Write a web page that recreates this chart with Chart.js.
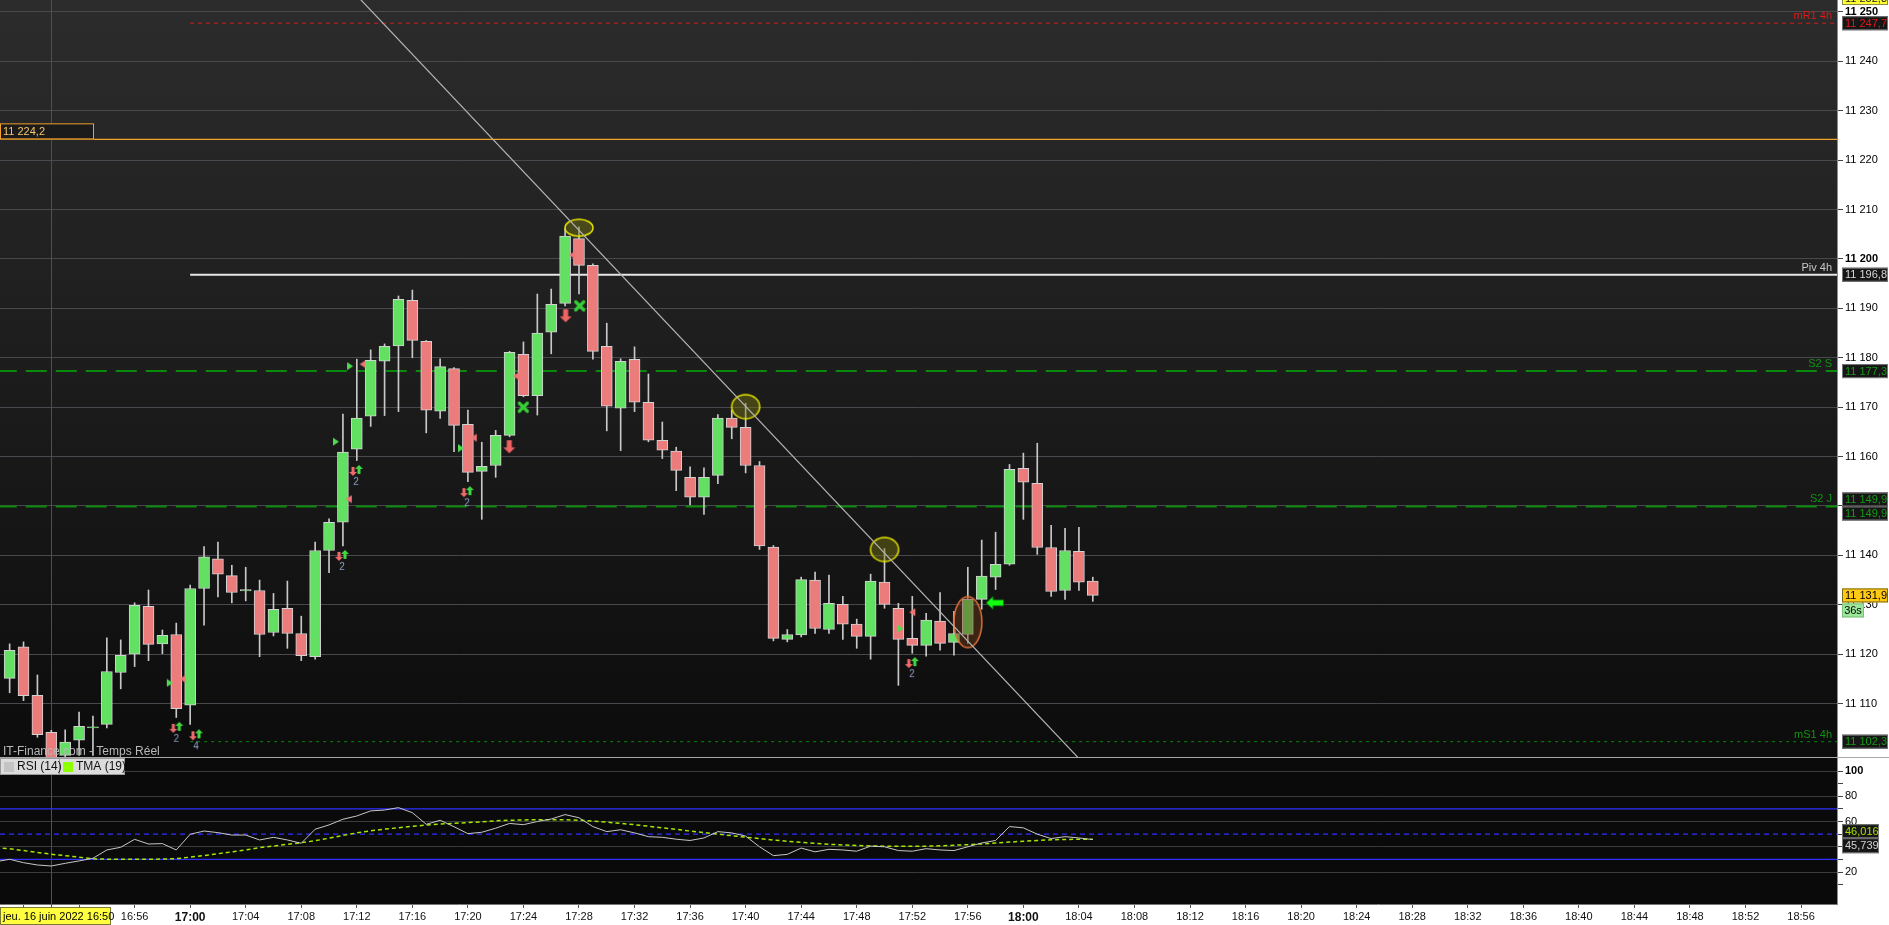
<!DOCTYPE html>
<html>
<head>
<meta charset="utf-8">
<script src="https://cdn.jsdelivr.net/npm/chart.js@4.4.1/dist/chart.umd.min.js"></script>
<style>
  html, body { margin: 0; padding: 0; background: #fff; overflow: hidden; }
  #wrap { position: relative; width: 1889px; height: 925px; background: #a8a8a8; }
  #priceChart { position: absolute; left: 0; top: 0; }
  #rsiChart { position: absolute; left: 0; top: 758px; }
</style>
</head>
<body>
<div id="wrap">
  <canvas id="priceChart" width="1889" height="757"></canvas>
  <canvas id="rsiChart" width="1889" height="167"></canvas>
</div>
<script>
// --- Donnees : bougies 1 minute ---
const candleTimes = ['16:47','16:48','16:49','16:50','16:51','16:52','16:53','16:54','16:55','16:56','16:57','16:58','16:59',
  '17:00','17:01','17:02','17:03','17:04','17:05','17:06','17:07','17:08','17:09','17:10','17:11','17:12','17:13','17:14',
  '17:15','17:16','17:17','17:18','17:19','17:20','17:21','17:22','17:23','17:24','17:25','17:26','17:27','17:28','17:29',
  '17:30','17:31','17:32','17:33','17:34','17:35','17:36','17:37','17:38','17:39','17:40','17:41','17:42','17:43','17:44',
  '17:45','17:46','17:47','17:48','17:49','17:50','17:51','17:52','17:53','17:54','17:55','17:56','17:57','17:58','17:59',
  '18:00','18:01','18:02','18:03','18:04','18:05'];
const opens = [11115.1,11121.5,11111.7,11104.2,11099.5,11102.6,11105.1,11105.8,11116.3,11120.0,11129.7,11122.1,11124.0,
  11109.7,11133.3,11139.3,11135.9,11132.8,11132.9,11124.4,11129.3,11124.2,11119.5,11141.0,11146.7,11161.5,11168.2,11179.3,
  11182.4,11191.6,11183.3,11169.2,11177.8,11166.5,11157.0,11158.2,11164.3,11180.7,11172.3,11185.2,11191.0,11204.1,11198.7,
  11182.3,11169.8,11179.7,11171.0,11163.3,11161.1,11155.8,11151.8,11156.2,11167.8,11165.9,11158.2,11141.7,11123.0,11123.9,
  11135.0,11125.0,11130.1,11126.1,11123.6,11134.6,11129.3,11123.2,11121.8,11126.7,11122.4,11124.0,11131.1,11135.6,11138.2,
  11157.6,11154.6,11141.6,11132.9,11140.8,11134.8];
const highs = [11122.1,11122.5,11115.8,11104.6,11104.7,11108.3,11107.5,11123.3,11122.9,11130.4,11133.0,11124.9,11126.3,
  11134.0,11141.8,11142.7,11138.0,11137.6,11135.0,11132.3,11134.8,11127.7,11142.7,11147.4,11168.6,11179.7,11181.6,11182.8,
  11192.5,11193.7,11183.5,11179.8,11178.0,11169.4,11162.9,11165.3,11181.3,11183.2,11192.9,11193.9,11206.2,11206.5,11199.0,
  11187.0,11179.8,11182.2,11176.7,11167.0,11161.9,11157.9,11157.7,11168.5,11169.4,11170.8,11159.0,11142.0,11125.0,11135.6,
  11136.6,11136.0,11131.7,11127.1,11136.2,11141.4,11130.3,11131.7,11128.3,11132.5,11128.7,11137.6,11143.1,11144.7,11158.4,
  11160.7,11162.7,11146.1,11145.5,11145.7,11135.6];
const lows = [11112.2,11110.6,11103.2,11098.0,11098.5,11099.5,11099.5,11105.1,11113.0,11117.5,11118.7,11120.1,11107.2,
  11105.8,11125.9,11131.6,11130.4,11130.8,11119.5,11123.7,11121.2,11118.7,11119.0,11136.5,11141.9,11159.2,11166.1,11168.3,
  11169.1,11180.0,11164.8,11167.7,11161.0,11154.9,11147.3,11155.8,11164.0,11172.1,11168.4,11180.8,11190.5,11192.9,11179.7,
  11165.2,11161.2,11169.1,11163.0,11159.6,11153.1,11150.2,11148.3,11154.5,11163.6,11156.7,11141.2,11122.7,11122.5,11123.5,
  11124.2,11124.2,11123.0,11121.2,11119.0,11129.3,11113.7,11120.2,11119.6,11120.8,11119.8,11122.2,11129.1,11133.1,11138.0,
  11147.3,11140.2,11131.7,11131.1,11132.9,11130.7];
const closes = [11120.8,11111.6,11103.7,11099.0,11102.2,11105.4,11105.3,11116.5,11119.8,11129.9,11122.0,11123.8,11109.0,
  11133.3,11139.7,11136.2,11132.5,11133.1,11124.0,11129.1,11124.2,11119.7,11141.0,11146.7,11160.9,11167.8,11179.5,11182.3,
  11191.8,11183.5,11169.4,11178.2,11166.3,11156.8,11158.0,11164.3,11181.1,11172.3,11185.0,11190.8,11204.6,11198.7,11181.3,
  11170.2,11179.3,11171.0,11163.3,11161.3,11157.2,11151.8,11155.8,11167.8,11165.9,11158.2,11141.9,11123.2,11124.0,11135.1,
  11125.2,11130.3,11126.1,11123.6,11134.8,11130.1,11123.0,11121.8,11126.9,11122.2,11124.2,11131.1,11135.8,11138.2,11157.4,
  11154.8,11141.6,11132.7,11141.0,11134.6,11131.9];

// --- Indicateurs RSI (14) et TMA (19) ---
const rsiTimes = ['16:46'].concat(candleTimes);
const rsiValues = [28.2,30.1,27.4,25.6,24.8,26.9,28.8,30.9,37.5,39.6,45.9,42.2,42.5,37.5,
  49.9,52.5,51.2,49.3,49.3,45.4,47.5,45.4,42.8,53.9,57.3,61.8,64.4,68.4,69.1,71.0,67.0,57.8,61.0,55.9,50.4,51.5,54.7,
  58.5,57.5,60.0,62.0,65.5,63.0,56.0,52.0,53.5,51.0,48.0,47.5,46.0,45.0,47.0,52.0,51.0,48.5,40.0,33.0,34.0,39.0,36.0,
  38.0,37.5,36.5,40.5,40.0,37.0,36.5,38.5,37.5,37.0,40.0,43.0,45.0,56.0,55.0,50.0,46.5,48.0,47.0,45.739];
const tmaValues = [39.3,38.5,37.0,35.5,34.1,33.0,31.8,30.5,30.2,30.1,30.1,30.1,30.3,30.6,
  31.8,33.0,34.5,36.0,37.5,39.3,40.6,42.0,43.2,44.8,46.8,49.0,51.0,52.7,54.0,55.1,56.2,57.2,58.0,58.6,59.1,59.8,60.6,
  61.0,61.3,61.4,61.5,61.4,61.0,60.3,59.5,58.5,57.5,56.3,55.0,53.8,52.5,51.3,50.0,48.8,47.6,46.5,45.4,44.4,43.5,42.7,
  42.0,41.4,41.0,40.7,40.5,40.4,40.4,40.5,40.8,41.2,41.7,42.3,43.0,43.7,44.4,45.0,45.5,45.8,46.0,46.016];
const rsiLevels = [70, 50, 30];

// --- Axes ---
const timeTicks = ['16:48','16:52','16:56','17:00','17:04','17:08','17:12','17:16','17:20','17:24','17:28','17:32','17:36',
  '17:40','17:44','17:48','17:52','17:56','18:00','18:04','18:08','18:12','18:16','18:20','18:24','18:28','18:32','18:36',
  '18:40','18:44','18:48','18:52','18:56'];
const priceTicks = [11110,11120,11130,11140,11150,11160,11170,11180,11190,11200,11210,11220,11230,11240,11250];
const rsiTicks = [10,20,30,40,50,60,70,80,90,100];

// --- Niveaux horizontaux ---
const levelNames = ['mR1 4h','Piv 4h','S2 S','S2 J','mS1 4h'];
const levelValues = [11247.7, 11196.8, 11177.3, 11149.9, 11102.3];
const levelStarts = ['17:00','17:00','16:46','16:46','17:00'];
const orangeLevel = 11224.2;
const lastPrice = 11131.9;
const topBoxPrice = 11252.8;

// --- Dessins : oblique, ellipses, signaux ---
const trendTimes = ['17:12','18:04'];
const trendPrices = [11253.3, 11098.9];
const ellipseTimes = ['17:28','17:40','17:50','17:56'];
const ellipsePrices = [11206.3, 11170.1, 11141.2, 11126.5];
const pairTimes = [1019.0, 1020.42, 1030.93, 1031.94, 1039.93, 1071.97];
const pairPrices = [11105.1, 11103.6, 11139.9, 11157.1, 11152.8, 11118.2];
const pairCounts = [2, 4, 2, 2, 2, 2];
const greenTriTimes = [1018.53, 1030.5, 1031.51, 1039.5, 1071.14];
const greenTriPrices = [11114.2, 11163.0, 11178.3, 11161.7, 11125.2];
const redTriTimes = [1019.46, 1031.42, 1032.42, 1040.42, 1043.46, 1072.0, 1047.5];
const redTriPrices = [11115.0, 11151.4, 11178.7, 11163.8, 11176.3, 11128.5, 11200.8];
const bigDownTimes = [1042.98, 1047.04];
const bigDownPrices = [11162.0, 11188.5];
const crossTimes = [1043.99, 1048.05];
const crossPrices = [11170.0, 11190.5];
const leftArrowTimes = [1077.96];
const leftArrowPrices = [11130.4];

const cursorTime = '16:50';
const xMin = 1006.306, xMax = 1138.59;
const priceMin = 11099.2, priceMax = 11252.4;
const rsiMin = -5.3, rsiMax = 110.3;

// --- Utilitaires ---
const toMin = s => { const [h, m] = s.split(':').map(Number); return h * 60 + m; };
const fmtMin = v => Math.floor(v / 60) + ':' + String(Math.round(v % 60)).padStart(2, '0');
const spaced = v => String(v).replace(/\B(?=(\d{3})+(?!\d))/g, ' ');
const fmtPrice = v => { const p = v.toFixed(1).split('.'); return spaced(p[0]) + ',' + p[1]; };
const FONT = '"Liberation Sans", Arial, sans-serif';
Chart.defaults.font.family = FONT;

function glyph(w, h, draw) {
  const c = document.createElement('canvas');
  c.width = w; c.height = h;
  draw(c.getContext('2d'));
  return c;
}
function arrow(g, cx, top, h, w, shaft, up, fill) {
  const mid = up ? top + h * 0.45 : top + h * 0.55;
  g.fillStyle = fill;
  g.beginPath();
  if (up) {
    g.moveTo(cx, top); g.lineTo(cx + w / 2, mid); g.lineTo(cx + shaft / 2, mid); g.lineTo(cx + shaft / 2, top + h);
    g.lineTo(cx - shaft / 2, top + h); g.lineTo(cx - shaft / 2, mid); g.lineTo(cx - w / 2, mid);
  } else {
    g.moveTo(cx, top + h); g.lineTo(cx + w / 2, mid); g.lineTo(cx + shaft / 2, mid); g.lineTo(cx + shaft / 2, top);
    g.lineTo(cx - shaft / 2, top); g.lineTo(cx - shaft / 2, mid); g.lineTo(cx - w / 2, mid);
  }
  g.closePath(); g.fill();
}
const pairGlyph = n => glyph(18, 32, g => {
  arrow(g, 6, 12, 9, 8, 3, false, '#f06a6a');
  arrow(g, 12, 10, 9, 8, 3, true, '#42d842');
  g.fillStyle = '#8f9ec4'; g.font = '10px ' + FONT; g.textAlign = 'center'; g.textBaseline = 'middle';
  g.fillText(String(n), 9, 27);
});
const triGlyph = (right, fill) => glyph(8, 9, g => {
  g.fillStyle = fill; g.beginPath();
  if (right) { g.moveTo(1, 0.5); g.lineTo(7, 4.5); g.lineTo(1, 8.5); }
  else { g.moveTo(7, 0.5); g.lineTo(1, 4.5); g.lineTo(7, 8.5); }
  g.closePath(); g.fill();
});
const bigDownGlyph = glyph(14, 15, g => arrow(g, 7, 1, 13, 12, 5, false, '#ee6464'));
const crossGlyph = glyph(13, 13, g => {
  g.strokeStyle = '#37cf37'; g.lineWidth = 3.2; g.lineCap = 'round';
  g.beginPath(); g.moveTo(2.5, 2.5); g.lineTo(10.5, 10.5); g.moveTo(10.5, 2.5); g.lineTo(2.5, 10.5); g.stroke();
});
const leftArrowGlyph = glyph(20, 15, g => {
  g.fillStyle = '#12ff12'; g.strokeStyle = '#0b6a0b'; g.lineWidth = 1;
  g.beginPath(); g.moveTo(1, 7.5); g.lineTo(8, 1); g.lineTo(8, 4.5); g.lineTo(18.5, 4.5); g.lineTo(18.5, 10.5);
  g.lineTo(8, 10.5); g.lineTo(8, 14); g.closePath(); g.fill(); g.stroke();
});
const ellipseGlyph = (w, h, stroke, fill) => glyph(w + 4, h + 4, g => {
  g.beginPath(); g.ellipse(w / 2 + 2, h / 2 + 2, w / 2, h / 2, 0, 0, Math.PI * 2);
  g.fillStyle = fill; g.fill(); g.strokeStyle = stroke; g.lineWidth = 1.5; g.stroke();
});
const ellipseStyles = [
  ellipseGlyph(28, 17, '#e6e600', 'rgba(120,120,20,0.45)'),
  ellipseGlyph(28, 24, '#e6e600', 'rgba(120,120,20,0.45)'),
  ellipseGlyph(28, 24, '#e6e600', 'rgba(120,120,20,0.45)'),
  ellipseGlyph(28, 51, '#e0703a', 'rgba(110,60,25,0.45)')
];

const pts = (xs, ys) => xs.map((x, i) => ({ x: typeof x === 'string' ? toMin(x) : x, y: ys[i] }));
const marker = (data, style, order) => ({ type: 'scatter', data, pointStyle: style, pointRadius: 6, order, clip: false });

function drawBox(ctx, x, y, w, h, bg, border, text, color, align) {
  ctx.fillStyle = bg; ctx.fillRect(x, y, w, h);
  ctx.strokeStyle = border; ctx.lineWidth = 1; ctx.strokeRect(x + 0.5, y + 0.5, w - 1, h - 1);
  ctx.fillStyle = color; ctx.font = '11px ' + FONT; ctx.textBaseline = 'middle';
  ctx.textAlign = align || 'left';
  ctx.fillText(text, align === 'center' ? x + w / 2 : x + 3, y + h / 2 + 0.5);
}

// --- Fond et annotations du graphique des prix ---
const pricePanel = {
  id: 'pricePanel',
  beforeDraw(chart) {
    const { ctx, chartArea: a } = chart;
    ctx.save();
    ctx.fillStyle = '#fff'; ctx.fillRect(0, 0, chart.width, chart.height);
    const grad = ctx.createLinearGradient(0, a.top, 0, a.bottom);
    grad.addColorStop(0, '#2c2c2c'); grad.addColorStop(1, '#0c0c0c');
    ctx.fillStyle = grad; ctx.fillRect(a.left, a.top, a.right - a.left, a.bottom - a.top);
    ctx.restore();
  },
  beforeDatasetsDraw(chart) {
    const { ctx, chartArea: a, scales: { x } } = chart;
    const cx = Math.round(x.getPixelForValue(toMin(cursorTime))) + 0.5;
    ctx.save(); ctx.strokeStyle = '#8e3434'; ctx.lineWidth = 1;
    ctx.beginPath(); ctx.moveTo(cx, a.top); ctx.lineTo(cx, a.bottom); ctx.stroke(); ctx.restore();
  },
  afterDraw(chart) {
    const { ctx, chartArea: a, scales: { y } } = chart;
    ctx.save();
    const levelColors = ['#e01818', '#c8c8c8', '#119311', '#119311', '#119311'];
    ctx.font = '11px ' + FONT; ctx.textAlign = 'right'; ctx.textBaseline = 'alphabetic';
    levelNames.forEach((n, i) => {
      ctx.fillStyle = levelColors[i];
      ctx.fillText(n, a.right - 5, y.getPixelForValue(levelValues[i]) - 4);
    });
    // texte du flux
    ctx.textAlign = 'left'; ctx.fillStyle = '#b8b8b8'; ctx.font = '12px ' + FONT;
    ctx.fillText('IT-Finance.com - Temps Réel', 3, a.bottom - 2);
    // etiquette gauche du niveau orange
    const oy = y.getPixelForValue(orangeLevel);
    drawBox(ctx, 0, oy - 16, 94, 16, '#1b1b1b', '#f0a030', fmtPrice(orangeLevel), '#f7c66a');
    // etiquettes de droite
    const bx = a.right + 5, bw = 46;
    drawBox(ctx, bx, y.getPixelForValue(topBoxPrice) - 7, bw, 14, '#ffff33', '#8a8a40', fmtPrice(topBoxPrice), '#222');
    const boxColors = ['#e01818', '#d8d8d8', '#169916', '#169916', '#169916'];
    levelValues.forEach((v, i) => {
      const py = y.getPixelForValue(v);
      if (levelNames[i] === 'S2 J') {
        drawBox(ctx, bx, py - 14, bw, 14, '#161616', '#777', fmtPrice(v), boxColors[i]);
        drawBox(ctx, bx, py, bw, 14, '#161616', '#777', fmtPrice(v), boxColors[i]);
      } else {
        drawBox(ctx, bx, py - 7, bw, 14, '#161616', '#777', fmtPrice(v), boxColors[i]);
      }
    });
    const ly = y.getPixelForValue(lastPrice);
    drawBox(ctx, bx, ly - 7, bw, 14, '#ffc812', '#7a6a20', fmtPrice(lastPrice), '#000');
    drawBox(ctx, bx, ly + 8, 22, 14, '#9be89b', '#79c079', '36s', '#000', 'center');
    ctx.restore();
  }
};

// --- Fond et annotations du RSI ---
const rsiPanel = {
  id: 'rsiPanel',
  beforeDraw(chart) {
    const { ctx, chartArea: a } = chart;
    ctx.save();
    ctx.fillStyle = '#fff'; ctx.fillRect(0, 0, chart.width, chart.height);
    ctx.fillStyle = '#0a0a0a'; ctx.fillRect(a.left, a.top, a.right - a.left, a.bottom - a.top);
    ctx.restore();
  },
  beforeDatasetsDraw(chart) {
    const { ctx, chartArea: a, scales: { x } } = chart;
    const cx = Math.round(x.getPixelForValue(toMin(cursorTime))) + 0.5;
    ctx.save(); ctx.strokeStyle = '#8e3434'; ctx.lineWidth = 1;
    ctx.beginPath(); ctx.moveTo(cx, a.top); ctx.lineTo(cx, a.bottom + 4); ctx.stroke(); ctx.restore();
  },
  afterDraw(chart) {
    const { ctx, chartArea: a, scales: { y } } = chart;
    ctx.save();
    // legende
    ctx.fillStyle = '#dcdcdc'; ctx.fillRect(0, 0, 125, 17);
    ctx.strokeStyle = '#9a9a9a'; ctx.lineWidth = 1;
    ctx.strokeRect(0.5, 0.5, 59, 16); ctx.strokeRect(59.5, 0.5, 65, 16);
    ctx.fillStyle = '#c4c4c4'; ctx.fillRect(4, 4, 10, 10);
    ctx.fillStyle = '#8cff00'; ctx.fillRect(63, 4, 10, 10);
    ctx.fillStyle = '#111'; ctx.font = '12px ' + FONT; ctx.textBaseline = 'middle'; ctx.textAlign = 'left';
    ctx.fillText('RSI (14)', 17, 9); ctx.fillText('TMA (19)', 76, 9);
    // valeurs courantes
    const bx = a.right + 5;
    const tmaLast = tmaValues[tmaValues.length - 1], rsiLast = rsiValues[rsiValues.length - 1];
    const ty = y.getPixelForValue(tmaLast);
    drawBox(ctx, bx, ty - 15, 37, 14, '#161616', '#777', tmaLast.toFixed(3).replace('.', ','), '#a8e000');
    drawBox(ctx, bx, ty - 1, 37, 15, '#161616', '#777', rsiLast.toFixed(3).replace('.', ','), '#d4d4d4');
    // date du curseur
    drawBox(ctx, 0, a.bottom + 3, 111, chart.height - a.bottom - 3, '#ffff40', '#7a7a30', 'jeu. 16 juin 2022 16:50', '#000');
    ctx.restore();
  }
};

// --- Graphique des prix ---
new Chart(document.getElementById('priceChart'), {
  type: 'bar',
  data: {
    datasets: [
      ...levelValues.map((v, i) => ({
        type: 'line', data: pts([levelStarts[i], xMax], [v, v]), pointRadius: 0, order: 20,
        borderColor: ['#d41a1a', '#e6e6e6', '#0a8a0a', '#0a8a0a', '#0a8a0a'][i],
        borderWidth: [1, 2, 2, 2, 1][i],
        borderDash: [[4, 4], [], [21, 9], [21, 9], [3, 4]][i]
      })),
      { type: 'line', data: pts([xMin, xMax], [orangeLevel, orangeLevel]), pointRadius: 0, order: 20,
        borderColor: '#f0a22a', borderWidth: 1.3 },
      { label: 'mèches', data: candleTimes.map((t, i) => ({ x: toMin(t), y: [lows[i], highs[i]] })),
        backgroundColor: '#c8c8c8', barThickness: 1, grouped: false, order: 9 },
      { label: 'corps', data: candleTimes.map((t, i) => ({ x: toMin(t), y: [opens[i], closes[i]] })),
        backgroundColor: c => closes[c.dataIndex] >= opens[c.dataIndex] ? '#62e062' : '#ec7c7c',
        borderColor: '#d2d2d2', borderWidth: 1, borderSkipped: false, barThickness: 11, grouped: false, order: 8 },
      ...pairTimes.map((t, i) => marker([{ x: t, y: pairPrices[i] }], pairGlyph(pairCounts[i]), 4)),
      marker(pts(greenTriTimes, greenTriPrices), triGlyph(true, '#4fdc4f'), 4),
      marker(pts(redTriTimes, redTriPrices), triGlyph(false, '#f07474'), 4),
      marker(pts(bigDownTimes, bigDownPrices), bigDownGlyph, 4),
      marker(pts(crossTimes, crossPrices), crossGlyph, 4),
      marker(pts(leftArrowTimes, leftArrowPrices), leftArrowGlyph, 4),
      ...ellipseTimes.map((t, i) => marker([{ x: toMin(t), y: ellipsePrices[i] }], ellipseStyles[i], 3)),
      { type: 'line', data: pts(trendTimes, trendPrices), pointRadius: 0, order: 1,
        borderColor: '#b4b4b4', borderWidth: 1.2 }
    ]
  },
  options: {
    responsive: false, animation: false, events: [],
    layout: { padding: 0, autoPadding: false },
    plugins: { legend: { display: false }, tooltip: { enabled: false } },
    scales: {
      x: { type: 'linear', min: xMin, max: xMax, offset: false, display: false },
      y: {
        type: 'linear', position: 'right', min: priceMin, max: priceMax,
        afterBuildTicks: s => { s.ticks = priceTicks.map(v => ({ value: v })); },
        afterFit: s => { s.width = 52; s.paddingTop = 0; s.paddingBottom = 0; },
        grid: { color: '#48484e', tickColor: '#444', tickLength: 6 },
        border: { color: '#8c8c8c' },
        ticks: {
          padding: 2, color: '#000',
          font: c => ({ size: 11, weight: c.tick && c.tick.value % 50 === 0 ? 'bold' : 'normal' }),
          callback: v => spaced(v)
        }
      }
    }
  },
  plugins: [pricePanel]
});

// --- Graphique RSI ---
new Chart(document.getElementById('rsiChart'), {
  type: 'line',
  data: {
    datasets: [
      ...rsiLevels.map(v => ({
        data: pts([xMin, xMax], [v, v]), pointRadius: 0, order: 10,
        borderColor: '#2f2fff', borderWidth: 1.2, borderDash: v === 50 ? [5, 4] : []
      })),
      { label: 'TMA (19)', data: pts(rsiTimes, tmaValues), pointRadius: 0, order: 3,
        borderColor: '#a6e600', borderWidth: 1.5, borderDash: [4, 3] },
      { label: 'RSI (14)', data: pts(rsiTimes, rsiValues), pointRadius: 0, order: 2,
        borderColor: '#c6c6c6', borderWidth: 1 }
    ]
  },
  options: {
    responsive: false, animation: false, events: [],
    layout: { padding: 0, autoPadding: false },
    plugins: { legend: { display: false }, tooltip: { enabled: false } },
    scales: {
      x: {
        type: 'linear', min: xMin, max: xMax, position: 'bottom',
        afterBuildTicks: s => { s.ticks = timeTicks.map(t => ({ value: toMin(t) })); },
        afterFit: s => { s.height = 21; s.paddingLeft = 0; s.paddingRight = 0; },
        grid: { drawOnChartArea: false, tickColor: '#555', tickLength: 4 },
        border: { color: '#777' },
        ticks: {
          autoSkip: false, maxRotation: 0, padding: 2, color: '#111',
          font: c => ({ size: c.tick && c.tick.value % 60 === 0 ? 12 : 11, weight: c.tick && c.tick.value % 60 === 0 ? 'bold' : 'normal' }),
          callback: v => fmtMin(v)
        }
      },
      y: {
        type: 'linear', position: 'right', min: rsiMin, max: rsiMax,
        afterBuildTicks: s => { s.ticks = rsiTicks.map(v => ({ value: v })); },
        afterFit: s => { s.width = 52; s.paddingTop = 0; s.paddingBottom = 0; },
        grid: { color: c => c.tick && c.tick.value % 20 === 0 ? '#3c3c3c' : 'rgba(0,0,0,0)', tickColor: '#444', tickLength: 6 },
        border: { color: '#8c8c8c' },
        ticks: {
          padding: 2, color: '#000',
          font: c => ({ size: 11, weight: c.tick && c.tick.value === 100 ? 'bold' : 'normal' }),
          callback: v => v % 20 === 0 ? v : ''
        }
      }
    }
  },
  plugins: [rsiPanel]
});
</script>
</body>
</html>
